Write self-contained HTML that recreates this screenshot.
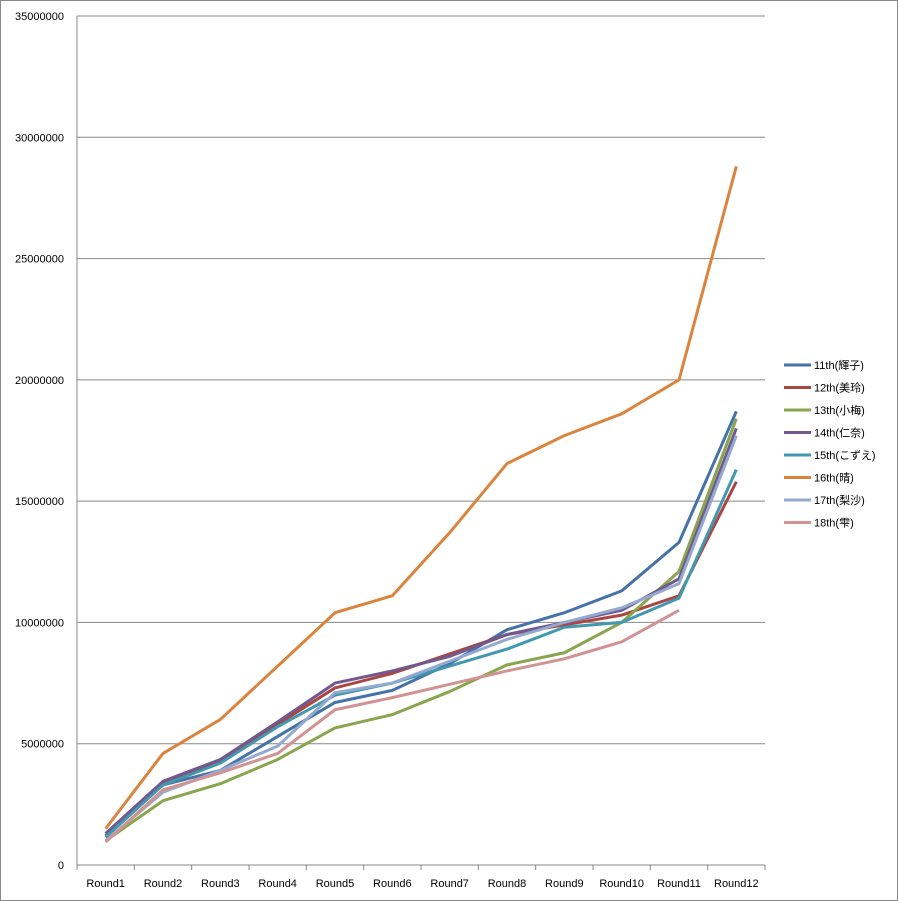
<!DOCTYPE html>
<html><head><meta charset="utf-8"><style>
body{margin:0;background:#fff;}
svg{display:block;font-family:"Liberation Sans","Noto Sans CJK JP",sans-serif;}
</style></head><body>
<svg id="c" width="898" height="901"></svg>
<script>
const categories=["Round1","Round2","Round3","Round4","Round5","Round6","Round7","Round8","Round9","Round10","Round11","Round12"];
const seriesNames=["11th(輝子)","12th(美玲)","13th(小梅)","14th(仁奈)","15th(こずえ)","16th(晴)","17th(梨沙)","18th(雫)"];
const s11=[1.3,3.3,3.9,5.3,6.7,7.2,8.3,9.7,10.4,11.3,13.3,18.7];
const s12=[1.2,3.4,4.3,5.8,7.3,7.9,8.7,9.5,9.9,10.3,11.1,15.8];
const s13=[1.0,2.65,3.35,4.35,5.65,6.2,7.15,8.25,8.75,10.0,12.1,18.4];
const s14=[1.3,3.45,4.35,5.9,7.5,8.0,8.6,9.5,10.0,10.5,11.8,18.0];
const s15=[1.15,3.3,4.2,5.7,7.0,7.5,8.2,8.9,9.8,10.0,11.0,16.3];
const s16=[1.5,4.6,6.0,8.2,10.4,11.1,13.7,16.55,17.7,18.6,20.0,28.8];
const s17=[1.0,3.0,3.9,4.9,7.1,7.5,8.4,9.3,10.0,10.6,11.6,17.7];
const s18=[0.95,3.1,3.8,4.6,6.4,6.9,7.45,8.0,8.5,9.2,10.5,null];
const yTicks=[0,5000000,10000000,15000000,20000000,25000000,30000000,35000000];
const colors=["#4572a7","#aa4643","#89a54e","#71588f","#4198af","#db843d","#93a9cf","#d19392"];
const allSeries=[s11,s12,s13,s14,s15,s16,s17,s18];
const svg=document.getElementById('c');const NS='http://www.w3.org/2000/svg';
function el(t,a,p){const e=document.createElementNS(NS,t);for(const k in a)e.setAttribute(k,a[k]);(p||svg).appendChild(e);return e;}
const L=77,R=765,T=16,B=865,yMax=35000000;
const y=v=>B-(v/yMax)*(B-T);
const step=(R-L)/categories.length;
const x=i=>L+step*(i+0.5);
const frame=el('rect',{x:0.5,y:0.5,width:897,height:900,fill:'#fff',stroke:'#888'});


yTicks.forEach(t=>{
 const g=el('line',{x1:L,x2:R,y1:y(t),y2:y(t),stroke:'#888','stroke-width':1});
 
 
 const tx=el('text',{x:64,y:y(t)+4,'text-anchor':'end','font-size':11,fill:'#000'});tx.textContent=t;
 
 
});
const ax=el('line',{x1:L,x2:L,y1:T,y2:B,stroke:'#888'});


categories.forEach((c,i)=>{
 const tk=el('line',{x1:L+step*i,x2:L+step*i,y1:B,y2:B+5,stroke:'#888'});
 
 
 const tx=el('text',{x:x(i),y:B+22,'text-anchor':'middle','font-size':11,fill:'#000'});tx.textContent=c;
 
 
});
const tkE=el('line',{x1:R,x2:R,y1:B,y2:B+5,stroke:'#888'});


allSeries.forEach((s,k)=>{
 const pts=[];s.forEach((v,i)=>{if(v!=null)pts.push(x(i)+','+y(v*1e6));});
 const p=el('polyline',{points:pts.join(' '),fill:'none',stroke:colors[k],'stroke-width':3,'stroke-linejoin':'round'});
 
 
 const ly=365+k*22.5;
 const g=el('g',{});
 
 
 el('line',{x1:784,x2:811,y1:ly,y2:ly,stroke:colors[k],'stroke-width':3},g);
 const t=el('text',{x:814,y:ly+4,'font-size':11,fill:'#000'},g);t.textContent=seriesNames[k];
});
</script>
</body></html>
